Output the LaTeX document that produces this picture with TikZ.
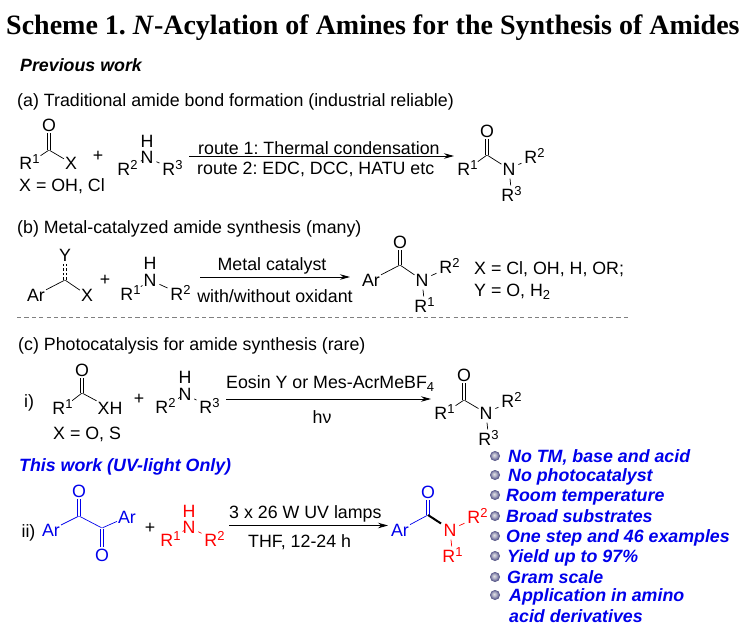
\documentclass[tikz,border=0pt]{standalone}
\usepackage{fontspec}
\setmainfont{Liberation Sans}
\newfontfamily\titlefont{Liberation Serif}
\usetikzlibrary{arrows.meta}
\frenchspacing
\definecolor{bl}{RGB}{0,0,235}
\definecolor{rd}{RGB}{255,0,0}
\definecolor{ballA}{RGB}{225,225,230}
\definecolor{ballB}{RGB}{180,180,200}
\definecolor{ballC}{RGB}{110,110,155}
\definecolor{ballD}{RGB}{45,45,100}
\newcommand{\Rs}[1]{R\textsuperscript{\fontsize{13}{13}\selectfont #1}}
\pgfdeclareradialshading{ballmk}{\pgfpoint{-5bp}{5bp}}{color(0bp)=(ballA);color(10bp)=(ballB);color(20bp)=(ballC);color(28bp)=(ballD);color(50bp)=(ballD)}
\tikzset{
  x=1pt,y=-1pt,
  every node/.style={font=\fontsize{17.8}{20}\selectfont},
  lab/.style={anchor=west,inner sep=0pt,text height=12.7pt,text depth=0pt},
  atom/.style={inner sep=0.5pt,text height=12.7pt,text depth=0pt},
  bond/.style={line width=0.7pt,shorten >=0.5pt,shorten <=0.5pt},
  nbond/.style={line width=0.7pt,shorten >=2.5pt,shorten <=2.5pt},
  dbl/.style={bond,double,double distance=2.4pt,line width=0.6pt},
  rxn/.style={line width=0.8pt,-{Stealth[length=10pt,width=5.5pt]}},
  feat/.style={lab,font=\fontsize{17.8}{20}\selectfont\bfseries\itshape,text=bl},
  ballmark/.style={circle,minimum size=10pt,inner sep=0pt,shading=ballmk},
}
\begin{document}
\begin{tikzpicture}
\useasboundingbox (0,0) rectangle (744,637);
\node[lab,text height=18pt,font=\titlefont\fontsize{28}{30}\selectfont\bfseries] (title) at (6,25) {Scheme 1. \textit{N}-Acylation of Amines for the Synthesis of Amides};
\node[lab,font=\fontsize{17.8}{20}\selectfont\bfseries\itshape] (prev) at (20,65) {Previous work};
\node[lab] (heada) at (17,100) {(a) Traditional amide bond formation (industrial reliable)};
% (a)
\coordinate (ac) at (49,150);
\node[atom] (ao) at (49,125) {O};
\node[atom] (ar1) at (29.7,163) {\Rs{1}};
\node[atom] (ax) at (71,163) {X};
\node[lab] (axdef) at (19,185) {X = OH, Cl};
\draw[dbl] (ac) -- (ao);
\draw[bond] (ac) -- (ar1);
\draw[bond] (ac) -- (ax);
\node[atom] (aplus) at (98,155) {+};
\node[atom] (ah) at (147,141) {H};
\node[atom] (an) at (147,157.5) {N};
\node[atom] (ar2) at (127.7,169) {\Rs{2}};
\node[atom] (ar3) at (172.7,169) {\Rs{3}};
\draw[nbond] (an) -- (ar2);
\draw[nbond] (an) -- (ar3);
\coordinate (aa1) at (189,156);
\coordinate (aa2) at (454,156);
\draw[rxn] (aa1) -- (aa2);
\node[lab] (aroute1) at (198,148) {route 1: Thermal condensation};
\node[lab] (aroute2) at (197,168) {route 2: EDC, DCC, HATU etc};
\coordinate (apc) at (487,155);
\node[atom] (apo) at (487,131) {O};
\node[atom] (apr1) at (467.7,169) {\Rs{1}};
\node[atom] (apn) at (509,169) {N};
\node[atom] (apr2) at (534.7,157) {\Rs{2}};
\node[atom] (apr3) at (511.7,195) {\Rs{3}};
\draw[dbl] (apc) -- (apo);
\draw[bond] (apc) -- (apr1);
\draw[bond] (apc) -- (apn);
\draw[nbond] (apn) -- (apr2);
\draw[nbond] (apn) -- (apr3);
% (b)
\node[lab] (headb) at (17,227) {(b) Metal-catalyzed amide synthesis (many)};
\coordinate (bc) at (65,280);
\node[atom] (by) at (65,255) {Y};
\node[atom] (bar) at (36,295) {Ar};
\node[atom] (bx) at (87,295) {X};
\draw[bond,dash pattern=on 2.5pt off 2pt] ([xshift=-1.4pt]bc) -- ([xshift=-1.4pt]by.south);
\draw[bond,dash pattern=on 2.5pt off 2pt] ([xshift=1.4pt]bc) -- ([xshift=1.4pt]by.south);
\draw[bond] (bc) -- (bar);
\draw[bond] (bc) -- (bx);
\node[atom] (bplus) at (105,279) {+};
\node[atom] (bh) at (150,263.5) {H};
\node[atom] (bn) at (150,280) {N};
\node[atom] (br1) at (130.7,294) {\Rs{1}};
\node[atom] (br2) at (180.7,294) {\Rs{2}};
\draw[nbond] (bn) -- (br1);
\draw[nbond] (bn) -- (br2);
\coordinate (ba1) at (200,277);
\coordinate (ba2) at (350,277);
\draw[rxn] (ba1) -- (ba2);
\node[atom] (bcat) at (272,264) {Metal catalyst};
\node[atom] (box) at (275,296) {with/without oxidant};
\coordinate (bpc) at (400,265);
\node[atom] (bpar) at (371,280) {Ar};
\node[atom] (bpo) at (400,242) {O};
\node[atom] (bpn) at (422,280) {N};
\node[atom] (bpr2) at (449.7,267) {\Rs{2}};
\node[atom] (bpr1) at (424.7,306) {\Rs{1}};
\draw[dbl] (bpc) -- (bpo);
\draw[bond] (bpc) -- (bpar);
\draw[bond] (bpc) -- (bpn);
\draw[nbond] (bpn) -- (bpr2);
\draw[nbond] (bpn) -- (bpr1);
\node[lab] (bdefx) at (474,268) {X = Cl, OH, H, OR;};
\node[lab] (bdefy) at (474,290) {Y = O, H\textsubscript{\fontsize{13}{13}\selectfont 2}};
\coordinate (d1) at (17,317);
\coordinate (d2) at (629,317);
\draw[gray,line width=0.7pt,dash pattern=on 4.2pt off 3.2pt] (d1) -- (d2);
% (c)
\node[lab] (headc) at (18,344) {(c) Photocatalysis for amide synthesis (rare)};
\node[atom] (ci) at (29,401) {i)};
\coordinate (cc) at (82,393);
\node[atom] (co) at (82,370) {O};
\node[atom] (cr1) at (62.7,408) {\Rs{1}};
\node[atom] (cxh) at (110,408) {XH};
\draw[dbl] (cc) -- (co);
\draw[bond] (cc) -- (cr1);
\draw[bond] (cc) -- (cxh);
\node[lab] (cdef) at (53,433) {X = O, S};
\node[atom] (cplus) at (139,398) {+};
\node[atom] (ch) at (185,377.5) {H};
\node[atom] (cn) at (185,394) {N};
\node[atom] (cr2) at (165.7,407) {\Rs{2}};
\node[atom] (cr3) at (209.7,407) {\Rs{3}};
\draw[nbond] (cn) -- (cr2);
\draw[nbond] (cn) -- (cr3);
\coordinate (ca1) at (226,399);
\coordinate (ca2) at (431,399);
\draw[rxn] (ca1) -- (ca2);
\node[lab] (ccat) at (226,382) {Eosin Y or Mes-AcrMeBF\textsubscript{\fontsize{13}{13}\selectfont 4}};
\node[atom] (chv) at (322,417) {hν};
\coordinate (cpc) at (464,400);
\node[atom] (cpo) at (464,375) {O};
\node[atom] (cpr1) at (444.7,413) {\Rs{1}};
\node[atom] (cpn) at (486,413) {N};
\node[atom] (cpr2) at (511.7,401) {\Rs{2}};
\node[atom] (cpr3) at (488.7,439) {\Rs{3}};
\draw[dbl] (cpc) -- (cpo);
\draw[bond] (cpc) -- (cpr1);
\draw[bond] (cpc) -- (cpn);
\draw[nbond] (cpn) -- (cpr2);
\draw[nbond] (cpn) -- (cpr3);
% this work
\node[lab,font=\fontsize{17.8}{20}\selectfont\bfseries\itshape,text=bl] (thiswork) at (19,465) {This work (UV-light Only)};
\node[atom] (dii) at (28.5,531) {ii)};
\begin{scope}[bl]
\node[atom,text=bl] (dar1) at (51,530) {Ar};
\coordinate (dc1) at (79,516);
\coordinate (dc2) at (102,528);
\node[atom,text=bl] (do1) at (79,491) {O};
\node[atom,text=bl] (do2) at (102,555) {O};
\node[atom,text=bl] (dar2) at (127,517) {Ar};
\draw[dbl] (dc1) -- (do1);
\draw[dbl] (dc2) -- (do2);
\draw[bond] (dar1) -- (dc1);
\draw[bond] (dc1) -- (dc2);
\draw[bond] (dc2) -- (dar2);
\end{scope}
\node[atom] (dplus) at (150,527) {+};
\begin{scope}[rd]
\node[atom,text=rd] (dh) at (189,511) {H};
\node[atom,text=rd] (dn) at (189,527) {N};
\node[atom,text=rd] (dr1) at (170.7,540) {\Rs{1}};
\node[atom,text=rd] (dr2) at (214.7,540) {\Rs{2}};
\draw[nbond] (dn) -- (dr1);
\draw[nbond] (dn) -- (dr2);
\end{scope}
\coordinate (da1) at (229,525.5);
\coordinate (da2) at (388,525.5);
\draw[rxn] (da1) -- (da2);
\node[lab] (dcat) at (229,512) {3 x 26 W UV lamps};
\node[lab] (dthf) at (248,541) {THF, 12-24 h};
\coordinate (dpc) at (428,515);
\coordinate (dpw) at (441,523.5);
\node[atom,text=bl] (dpar) at (400,530) {Ar};
\node[atom,text=bl] (dpo) at (428,492) {O};
\node[atom,text=rd] (dpn) at (450,530) {N};
\node[atom,text=rd] (dpr2) at (477.7,517) {\Rs{2}};
\node[atom,text=rd] (dpr1) at (452.7,556) {\Rs{1}};
\draw[dbl,bl] (dpc) -- (dpo);
\draw[bond,bl] (dpc) -- (dpar);
\draw[line width=2pt] (dpc) -- (dpw);
\draw[nbond,rd] (dpn) -- (dpr2);
\draw[nbond,rd] (dpn) -- (dpr1);
% features
\node[ballmark] (m1) at (495,456) {};
\node[ballmark] (m2) at (495,475) {};
\node[ballmark] (m3) at (495,495) {};
\node[ballmark] (m4) at (495,516) {};
\node[ballmark] (m5) at (495,536) {};
\node[ballmark] (m6) at (495,556) {};
\node[ballmark] (m7) at (495,577) {};
\node[ballmark] (m8) at (495,595) {};
\node[feat] (f1) at (508,456) {No TM, base and acid};
\node[feat] (f2) at (508,475) {No photocatalyst};
\node[feat] (f3) at (506,495) {Room temperature};
\node[feat] (f4) at (506,516) {Broad substrates};
\node[feat] (f5) at (506,536) {One step and 46 examples};
\node[feat] (f6) at (507,556) {Yield up to 97\%};
\node[feat] (f7) at (507,577) {Gram scale};
\node[feat] (f8) at (509,595) {Application in amino};
\node[feat] (f9) at (509,616) {acid derivatives};
\end{tikzpicture}
\end{document}
